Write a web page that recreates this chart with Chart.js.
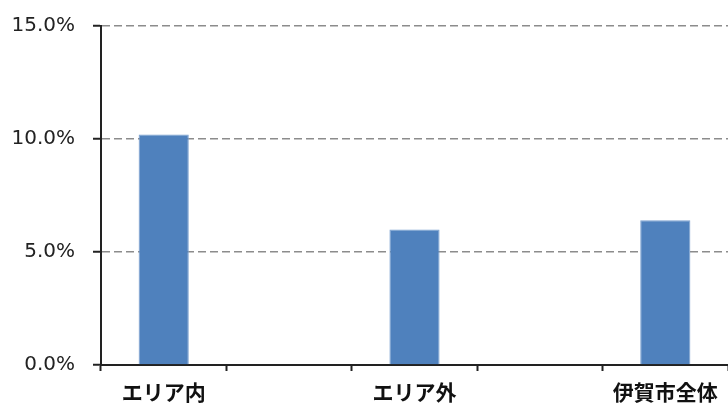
<!DOCTYPE html>
<html>
<head>
<meta charset="utf-8">
<script src="https://cdn.jsdelivr.net/npm/chart.js@4"></script>
<style>
  html, body { margin: 0; padding: 0; background: #fff; }
  #wrap { width: 728px; height: 404px; }
</style>
</head>
<body>
<div id="wrap"><canvas id="canvas"></canvas></div>
<script>
// カテゴリ（間の空欄も元グラフ通り）
var categories = ["エリア内", "", "エリア外", "", "伊賀市全体"];
// 値（%）
var values = [10.2, null, 6.0, null, 6.4];
// 目盛
var yTicks = [0, 5, 10, 15];

window.onload = function(){
    var ctx = document.getElementById("canvas").getContext("2d");
    window.myBar = new Chart(ctx, {
        type: 'bar',
        data: {
            labels: categories,
            datasets: [{
                data: values,
                backgroundColor: '#4F81BD',
                borderColor: '#7aa0cf',
                borderWidth: 1,
                barPercentage: 0.4,
                categoryPercentage: 1.0
            }]
        },
        options: {
            responsive: true,
            maintainAspectRatio: false,
            animation: false,
            layout: { padding: { top: 26, right: 0, left: 0, bottom: 0 } },
            plugins: {
                legend: { display: false },
                tooltip: { enabled: false }
            },
            scales: {
                x: {
                    offset: true,
                    grid: {
                        offset: true,
                        drawOnChartArea: false,
                        drawTicks: true,
                        tickLength: 6,
                        tickColor: '#222',
                        tickWidth: 2
                    },
                    border: { display: true, color: '#222', width: 2 },
                    ticks: {
                        color: '#111',
                        padding: 8,
                        maxRotation: 0,
                        autoSkip: false,
                        font: { family: "'Noto Sans CJK JP'", size: 21, weight: 'bold' }
                    },
                    afterFit: function(axis){ axis.height = 39; axis.paddingLeft = 0; axis.paddingRight = 0; }
                },
                y: {
                    min: 0,
                    max: 15,
                    afterBuildTicks: function(axis){
                        axis.ticks = yTicks.map(function(v){ return { value: v }; });
                    },
                    grid: {
                        color: '#8c8c8c',
                        lineWidth: 1.5,
                        tickColor: '#222',
                        tickLength: 8,
                        tickWidth: 2
                    },
                    border: { display: true, color: '#222', width: 2, dash: [8, 4] },
                    ticks: {
                        color: '#222',
                        padding: 18,
                        font: { family: "'DejaVu Sans'", size: 20 },
                        callback: function(v){ return v.toFixed(1) + '%'; }
                    },
                    afterFit: function(axis){ axis.width = 101; axis.paddingTop = 0; axis.paddingBottom = 0; }
                }
            }
        }
    });
}
</script>
</body>
</html>
